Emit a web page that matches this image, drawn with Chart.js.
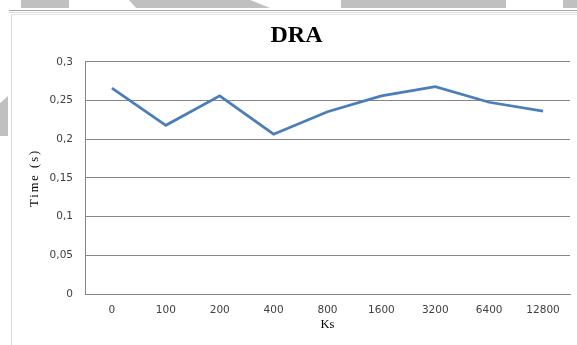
<!DOCTYPE html>
<html>
<head>
<meta charset="utf-8">
<script src="https://cdn.jsdelivr.net/npm/chart.js@4.4.1/dist/chart.umd.min.js"></script>
<style>
  html, body { margin: 0; padding: 0; width: 577px; height: 345px; overflow: hidden; background: #ffffff; position: relative; }
  .blk { position: absolute; background: #c0c0c0; }
  #wrap { position: absolute; left: 11px; top: 14px; width: 570px; height: 331px; border-left: 1px solid #d9d9d9; border-top: 1px solid #e6e6e6; box-sizing: border-box; }
  #wrap canvas { position: absolute; left: -1px; top: -1px; }
</style>
</head>
<body>
<div class="blk" style="left:21px;top:0;width:48px;height:8px;"></div>
<div class="blk" style="left:129px;top:0;width:141px;height:8px;clip-path:polygon(0 0, 86% 0, 100% 100%, 5% 100%);"></div>
<div class="blk" style="left:341px;top:0;width:165px;height:8px;"></div>
<div class="blk" style="left:563px;top:0;width:14px;height:8px;"></div>
<div class="blk" style="left:0;top:96px;width:8px;height:40px;clip-path:polygon(0 18%, 100% 0, 100% 100%, 0 100%);"></div>
<div style="position:absolute;left:9px;top:10px;width:568px;height:1px;background:#a6a6a6;"></div>
<div style="position:absolute;left:9px;top:12px;width:568px;height:1px;background:#dcdcdc;"></div>
<div id="wrap"><canvas id="c" width="571" height="332"></canvas></div>
<script>
const categories = ['0', '100', '200', '400', '800', '1600', '3200', '6400', '12800'];
const timeValues = [0.266, 0.218, 0.256, 0.2065, 0.2355, 0.256, 0.268, 0.2477, 0.2364];
const yTickLabels = ['0', '0,05', '0,1', '0,15', '0,2', '0,25', '0,3'];
const chartTitle = 'DRA';
const xTitle = 'Ks';
const yTitle = 'Time (s)';

const gridColor = '#868686';
const tickFont = { family: 'DejaVu Sans', size: 10.5 };

function spacedTitle(scale, spacing) {
  if (scale._spacedTitle) return;
  scale._spacedTitle = true;
  const orig = scale.drawTitle;
  scale.drawTitle = function () {
    const ctx = this.ctx;
    ctx.save();
    ctx.letterSpacing = spacing;
    orig.apply(this, arguments);
    ctx.restore();
  };
}

new Chart(document.getElementById('c'), {
  type: 'line',
  data: {
    labels: categories,
    datasets: [{
      data: timeValues,
      borderColor: '#4a7ebb',
      borderWidth: 2.75,
      pointRadius: 0,
      tension: 0,
      fill: false
    }]
  },
  options: {
    responsive: false,
    animation: false,
    devicePixelRatio: 1,
    layout: { padding: { left: 12, right: 12, top: 0, bottom: 0 } },
    plugins: {
      legend: { display: false },
      tooltip: { enabled: false },
      title: {
        display: true,
        text: chartTitle,
        color: '#000000',
        font: { family: 'Liberation Serif', size: 24, weight: 'bold', lineHeight: 1.2 },
        padding: { top: 7, bottom: 12 }
      }
    },
    scales: {
      x: {
        offset: true,
        grid: { display: false, drawTicks: false },
        border: { display: true, color: gridColor, width: 1 },
        ticks: { color: '#404040', font: tickFont, padding: 10, maxRotation: 0, autoSkip: false },
        title: { display: true, text: xTitle, color: '#000000', font: { family: 'Liberation Serif', size: 12.5, lineHeight: 1.2 }, padding: { top: 0, bottom: 14 } },
        afterFit: s => { s.height = 52; }
      },
      y: {
        min: 0,
        max: 0.3,
        grid: { color: gridColor, lineWidth: 1, drawTicks: false },
        border: { display: true, color: gridColor, width: 1 },
        ticks: {
          stepSize: 0.05,
          color: '#404040',
          font: tickFont,
          padding: 12,
          callback: (v, i) => yTickLabels[i]
        },
        title: { display: true, text: yTitle, color: '#000000', font: { family: 'Liberation Serif', size: 12.5, lineHeight: 1.2 }, padding: { top: 4, bottom: 0 } },
        afterFit: s => { s.width = 62; spacedTitle(s, '2px'); }
      }
    }
  }
});
</script>
</body>
</html>
